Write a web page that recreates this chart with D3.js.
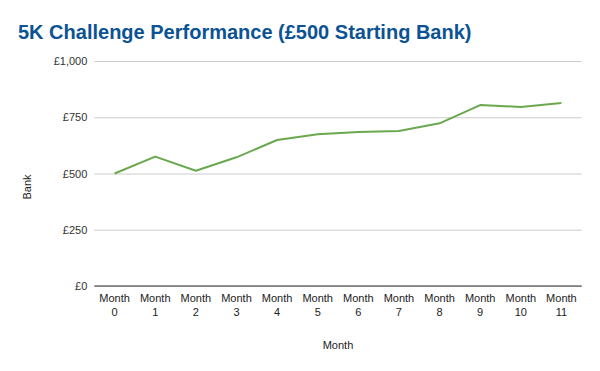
<!DOCTYPE html>
<html><head><meta charset="utf-8">
<script src="https://cdn.jsdelivr.net/npm/d3@7"></script>
<style>body{margin:0;background:#fff}svg{display:block}</style>
</head><body>
<svg id="c" width="600" height="371"></svg>
<script>
const months = ["Month 0","Month 1","Month 2","Month 3","Month 4","Month 5","Month 6","Month 7","Month 8","Month 9","Month 10","Month 11"];
const bank = [500, 575, 512, 572, 649, 674, 684, 689, 723, 804, 796, 813];
const yTicks = [0, 250, 500, 750, 1000];

(function(){
const svg = d3.select("#c");
const font = "Arial, 'Liberation Sans', sans-serif";
const pl = 94.3, pr = 581.7, pt = 61, pb = 286;

const x = d3.scaleBand().domain(months).range([pl, pr]);
const y = d3.scaleLinear().domain([0, 1000]).range([pb, pt]);

svg.append("text").attr("x", 18).attr("y", 38.5)
  .attr("font-family", font).attr("font-weight", "bold").attr("font-size", 20)
  .attr("fill", "#0b5394").text("5K Challenge Performance (£500 Starting Bank)");

const fmt = v => "£" + d3.format(",")(v);
const yAxis = d3.axisLeft(y).tickValues(yTicks).tickFormat(fmt).tickSize(-(pr-pl)).tickPadding(6);
const gy = svg.append("g").attr("transform", `translate(${pl},0)`).call(yAxis);
gy.select(".domain").remove();
gy.selectAll(".tick line").attr("stroke", "#cccccc").attr("stroke-width", 1);
gy.selectAll(".tick text").attr("font-family", font).attr("font-size", 11).attr("fill", "#333").attr("x", -7);

svg.append("line").attr("x1", pl).attr("x2", pr).attr("y1", y(0)).attr("y2", y(0))
  .attr("stroke", "#333").attr("stroke-width", 1.2);

const xAxis = d3.axisBottom(x).tickSize(0).tickPadding(0);
const gx = svg.append("g").attr("transform", `translate(0,${pb})`).call(xAxis);
gx.select(".domain").remove();
gx.selectAll(".tick text").each(function(d){
  const t = d3.select(this).text(null).attr("font-family", font).attr("font-size", 11).attr("fill", "#222").attr("y", 0).attr("dy", null);
  const parts = d.split(" ");
  parts.forEach((p, i) => t.append("tspan").attr("x", 0).attr("y", 16 + i*13.5).text(p));
});

const line = d3.line().x((d, i) => x(months[i]) + x.bandwidth()/2).y(d => y(d));
svg.append("path").datum(bank).attr("d", line).attr("fill", "none")
  .attr("stroke", "#6aa84f").attr("stroke-width", 2).attr("stroke-linejoin", "round");

svg.append("text").attr("x", 338).attr("y", 349).attr("text-anchor", "middle")
  .attr("font-family", font).attr("font-size", 11).attr("fill", "#222").text("Month");
svg.append("text").attr("transform", "translate(31,187) rotate(-90)").attr("text-anchor", "middle")
  .attr("font-family", font).attr("font-size", 11).attr("fill", "#222").text("Bank");
})();
</script>
</body></html>
